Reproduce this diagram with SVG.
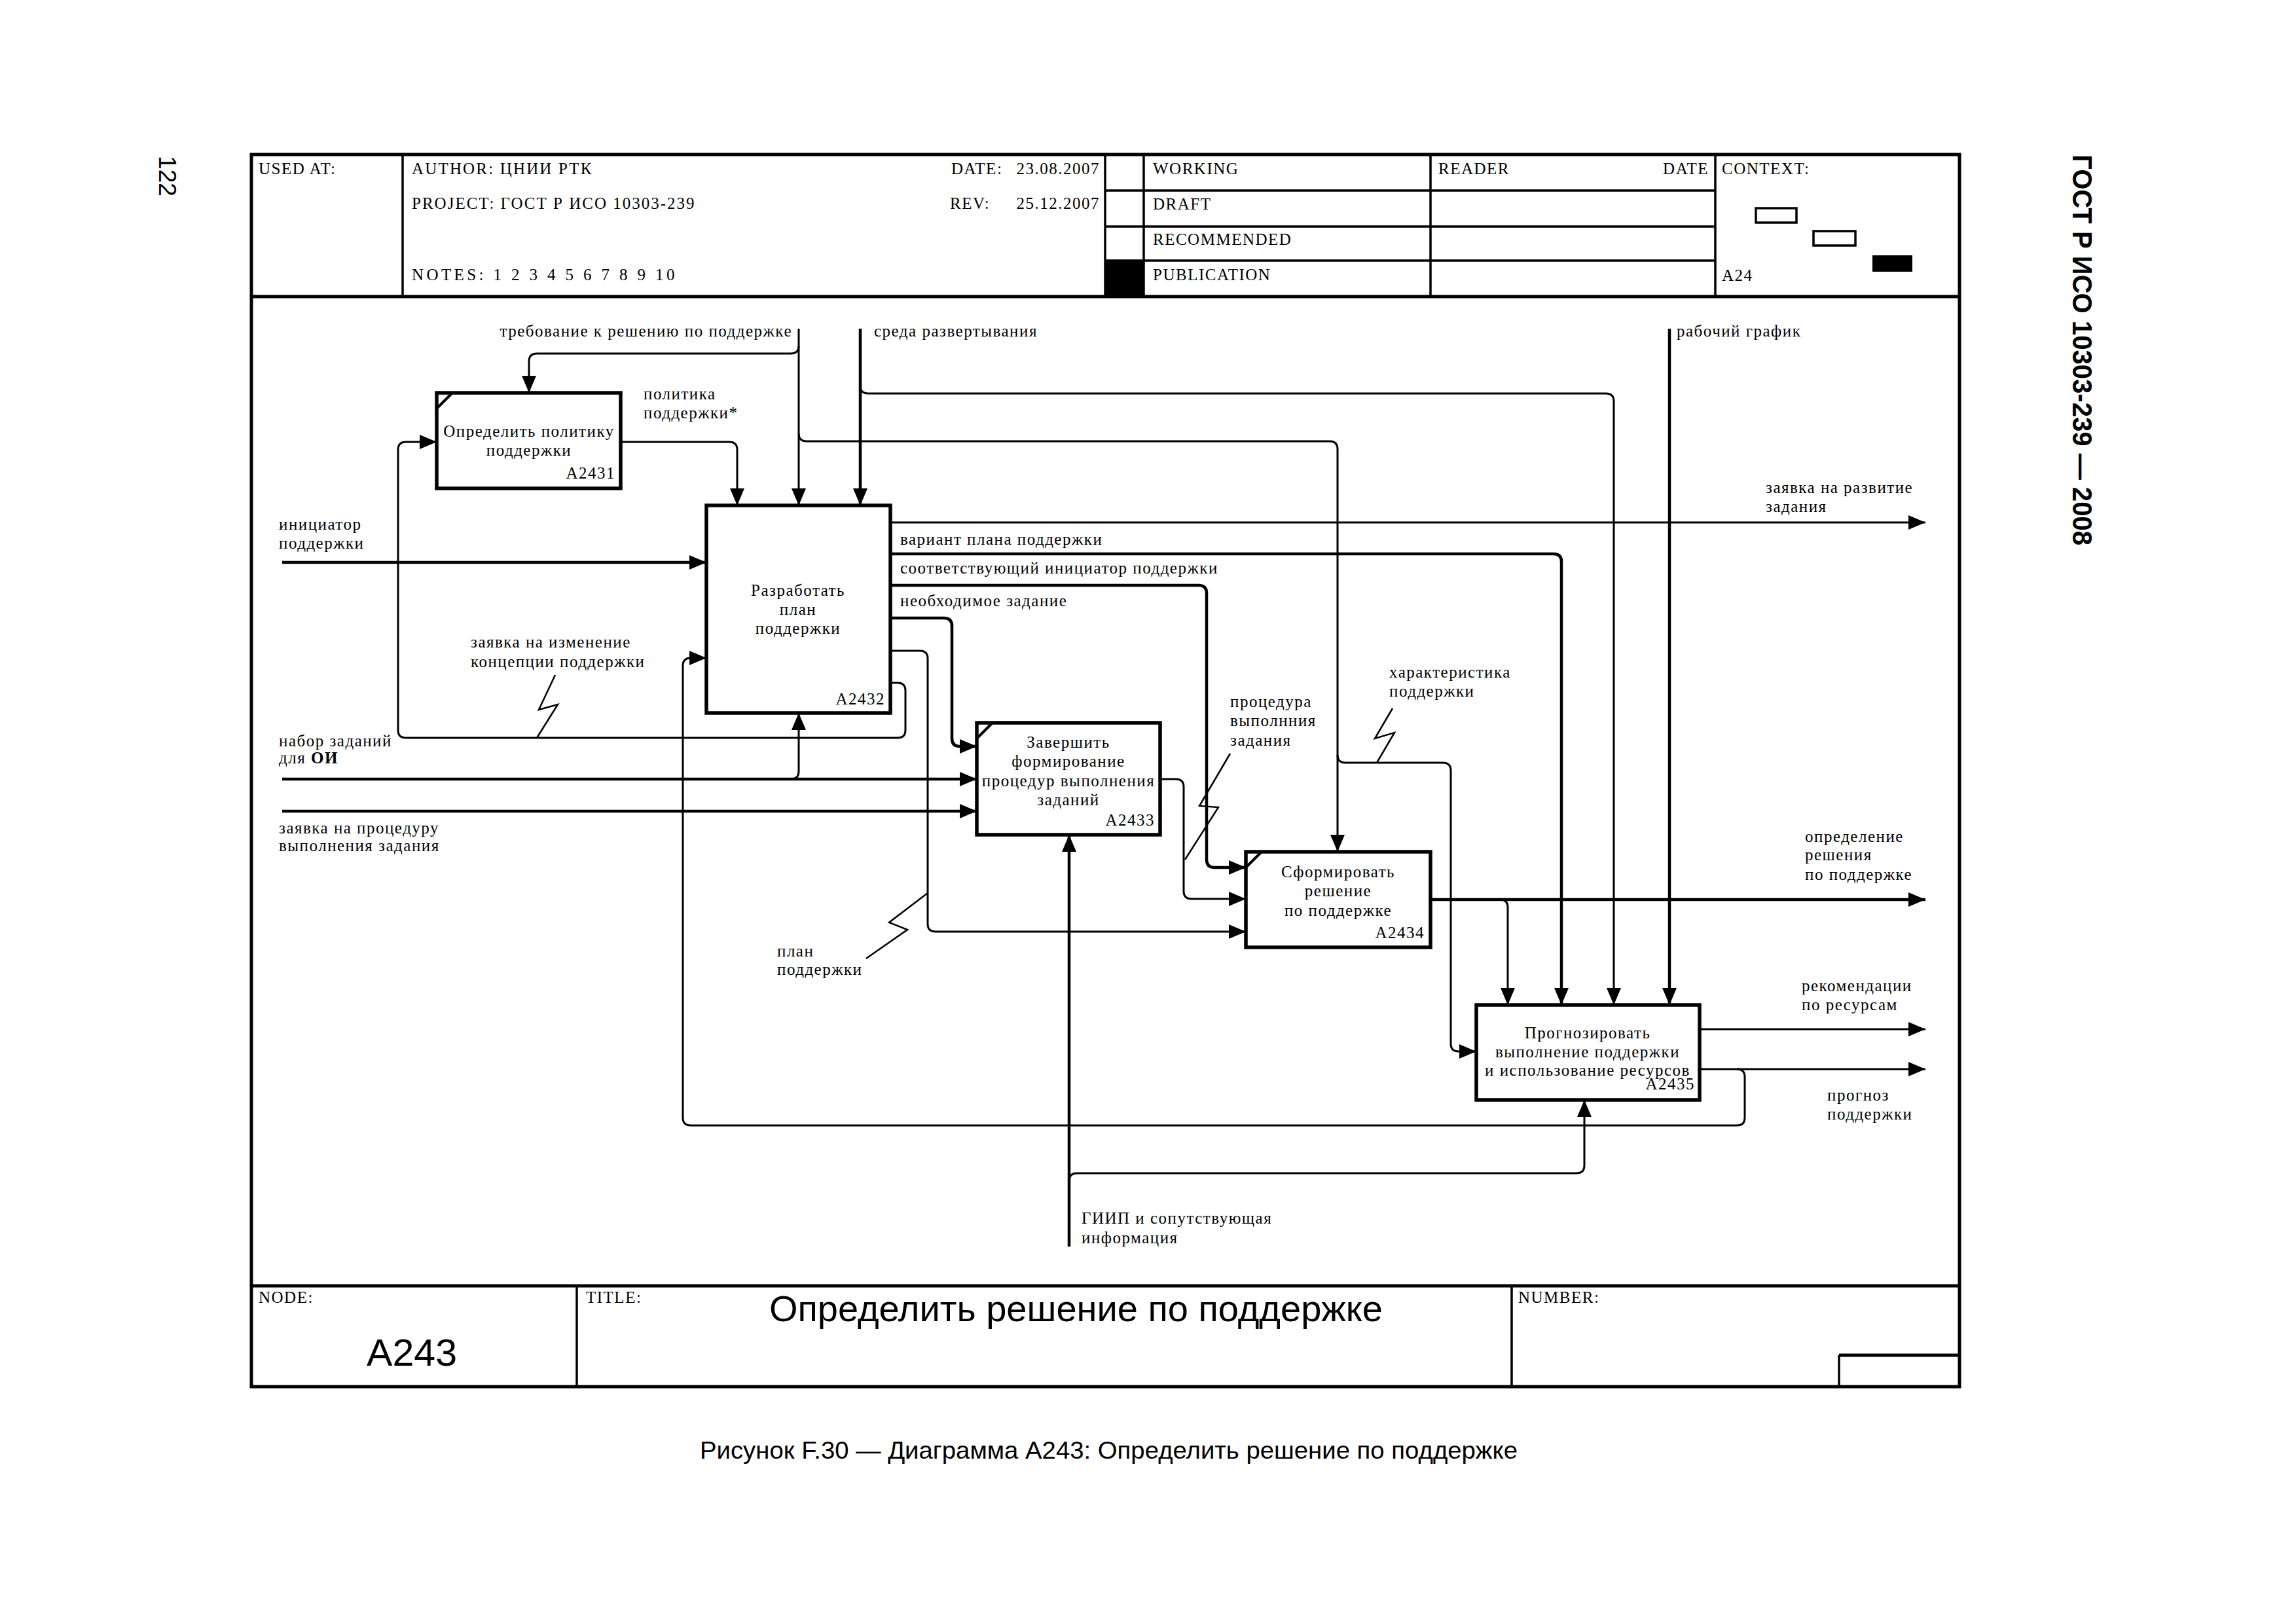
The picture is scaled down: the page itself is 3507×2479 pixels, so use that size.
<svg xmlns="http://www.w3.org/2000/svg" width="3507" height="2479" viewBox="0 0 3507 2479">
<style>
.f{fill:none;stroke:#000;stroke-width:5}
.g{fill:none;stroke:#000;stroke-width:3.5}
.t{font-family:"Liberation Serif","Times New Roman",serif;font-size:25px;letter-spacing:1.5px;fill:#000}
.l{font-family:"Liberation Serif","Times New Roman",serif;font-size:25px;letter-spacing:1.5px;fill:#000}
.box{fill:#fff;stroke:#000;stroke-width:5.5}
.d{fill:none;stroke:#000;stroke-width:4}
.c{fill:none;stroke:#000;stroke-width:3;stroke-linejoin:round}
.ct{fill:none;stroke:#000;stroke-width:4.5;stroke-linejoin:round}
.z{fill:none;stroke:#000;stroke-width:2.5;stroke-linejoin:miter}
.s{font-family:"Liberation Sans",Arial,sans-serif;fill:#000}
.m{text-anchor:middle}
.e{text-anchor:end}
</style>
<defs>
<marker id="arr" markerUnits="userSpaceOnUse" markerWidth="26" markerHeight="22" refX="26" refY="11" orient="auto">
<path d="M0,0 L26,11 L0,22 z" fill="#000"/>
</marker>
</defs>
<rect width="3507" height="2479" fill="#fff"/>

<!-- page texts -->
<text class="s" transform="translate(243,238) rotate(90)" font-size="36" textLength="62" lengthAdjust="spacingAndGlyphs">122</text>
<text class="s" transform="translate(3166,236) rotate(90)" font-size="42" font-weight="bold" textLength="597" lengthAdjust="spacingAndGlyphs">ГОСТ Р ИСО 10303-239 — 2008</text>

<!-- frame -->
<g id="frame">
<rect class="f" x="384" y="236" width="2609" height="1882"/>
<line class="f" x1="384" y1="453" x2="2993" y2="453"/>
<line class="f" x1="384" y1="1964" x2="2993" y2="1964"/>
<line class="g" x1="615" y1="236" x2="615" y2="453"/>
<line class="g" x1="1688" y1="236" x2="1688" y2="453"/>
<line class="g" x1="1747" y1="236" x2="1747" y2="453"/>
<line class="g" x1="2185" y1="236" x2="2185" y2="453"/>
<line class="g" x1="2620" y1="236" x2="2620" y2="453"/>
<line class="g" x1="1688" y1="291" x2="2620" y2="291"/>
<line class="g" x1="1688" y1="346" x2="2620" y2="346"/>
<line class="g" x1="1688" y1="398" x2="2620" y2="398"/>
<rect x="1688" y="398" width="59" height="55" fill="#000"/>
<rect x="2682" y="318" width="62" height="22" fill="#fff" stroke="#000" stroke-width="3.5"/>
<rect x="2770" y="353" width="64" height="22" fill="#fff" stroke="#000" stroke-width="3.5"/>
<rect x="2860" y="390" width="61" height="25" fill="#000"/>
<line class="g" x1="881" y1="1964" x2="881" y2="2118"/>
<line class="g" x1="2309" y1="1964" x2="2309" y2="2118"/>
<line class="f" x1="2809" y1="2070" x2="2993" y2="2070"/>
<line class="g" x1="2809" y1="2070" x2="2809" y2="2118"/>

<text class="t" x="395" y="266">USED AT:</text>
<text class="t" x="629" y="266" textLength="276" lengthAdjust="spacing">AUTHOR:  ЦНИИ РТК</text>
<text class="t" x="1453" y="266">DATE:</text>
<text class="t e" x="1680" y="266">23.08.2007</text>
<text class="t" x="629" y="319" textLength="433" lengthAdjust="spacing">PROJECT:  ГОСТ Р ИСО 10303-239</text>
<text class="t" x="1451" y="319">REV:</text>
<text class="t e" x="1680" y="319">25.12.2007</text>
<text class="t" x="629" y="428" textLength="403" lengthAdjust="spacing">NOTES:  1  2  3  4  5  6  7  8  9  10</text>
<text class="t" x="1761" y="266">WORKING</text>
<text class="t" x="1761" y="320">DRAFT</text>
<text class="t" x="1761" y="374">RECOMMENDED</text>
<text class="t" x="1761" y="428">PUBLICATION</text>
<text class="t" x="2197" y="266">READER</text>
<text class="t e" x="2610" y="266">DATE</text>
<text class="t" x="2630" y="266">CONTEXT:</text>
<text class="t" x="2630" y="429">A24</text>
<text class="t" x="395" y="1990">NODE:</text>
<text class="t" x="895" y="1990">TITLE:</text>
<text class="t" x="2319" y="1990">NUMBER:</text>
<text class="s" x="560" y="2086" font-size="58" textLength="138" lengthAdjust="spacingAndGlyphs">A243</text>
<text class="s" x="1175" y="2018" font-size="56" textLength="937" lengthAdjust="spacingAndGlyphs">Определить решение по поддержке</text>
</g>

<text class="s" x="1069" y="2228" font-size="37" textLength="1249" lengthAdjust="spacingAndGlyphs">Рисунок F.30 — Диаграмма A243: Определить решение по поддержке</text>

<!-- connectors -->
<g id="connectors">
<path class="c" d="M1220 502 V772" marker-end="url(#arr)"/>
<path class="c" d="M1220 528 Q1220 540 1208 540 H820 Q808 540 808 552 V600" marker-end="url(#arr)"/>
<path class="c" d="M1220 662 Q1220 674 1232 674 H2031 Q2043 674 2043 686 V1301" marker-end="url(#arr)"/>
<path class="c" d="M2043 1153 Q2043 1165 2055 1165 H2204 Q2216 1165 2216 1177 V1594 Q2216 1606 2228 1606 H2255" marker-end="url(#arr)"/>
<path class="ct" d="M1314 502 V772" marker-end="url(#arr)"/>
<path class="c" d="M1314 589 Q1314 601 1326 601 H2453 Q2465 601 2465 613 V1535" marker-end="url(#arr)"/>
<path class="ct" d="M2550 502 V1535" marker-end="url(#arr)"/>
<path class="c" d="M948 675 H1114 Q1126 675 1126 687 V772" marker-end="url(#arr)"/>
<path class="ct" d="M431 859 H1079" marker-end="url(#arr)"/>
<path class="c" d="M1360 798 H2941" marker-end="url(#arr)"/>
<path class="ct" d="M1360 846 H2373 Q2385 846 2385 858 V1535" marker-end="url(#arr)"/>
<path class="ct" d="M1360 894 H1831 Q1843 894 1843 906 V1313 Q1843 1325 1855 1325 H1903" marker-end="url(#arr)"/>
<path class="ct" d="M1360 944 H1442 Q1454 944 1454 956 V1128 Q1454 1140 1466 1140 H1492" marker-end="url(#arr)"/>
<path class="c" d="M1360 994 H1405 Q1417 994 1417 1006 V1411 Q1417 1423 1429 1423 H1903" marker-end="url(#arr)"/>
<path class="c" d="M1360 1043 H1371 Q1383 1043 1383 1055 V1115 Q1383 1127 1371 1127 H620 Q608 1127 608 1115 V687 Q608 675 620 675 H667" marker-end="url(#arr)"/>
<path class="ct" d="M431 1190 H1492" marker-end="url(#arr)"/>
<path class="c" d="M1208 1190 Q1220 1190 1220 1178 V1089" marker-end="url(#arr)"/>
<path class="ct" d="M431 1239 H1492" marker-end="url(#arr)"/>
<path class="c" d="M1772 1190 H1796 Q1808 1190 1808 1202 V1361 Q1808 1373 1820 1373 H1903" marker-end="url(#arr)"/>
<path class="ct" d="M2185 1374 H2941" marker-end="url(#arr)"/>
<path class="c" d="M2291 1374 Q2303 1374 2303 1386 V1535" marker-end="url(#arr)"/>
<path class="c" d="M2596 1572 H2941" marker-end="url(#arr)"/>
<path class="c" d="M2596 1633 H2941" marker-end="url(#arr)"/>
<path class="c" d="M2653 1633 Q2665 1633 2665 1645 V1707 Q2665 1719 2653 1719 H1055 Q1043 1719 1043 1707 V1017 Q1043 1005 1055 1005 H1079" marker-end="url(#arr)"/>
<path class="ct" d="M1633 1904 V1275" marker-end="url(#arr)"/>
<path class="c" d="M1633 1804 Q1633 1792 1645 1792 H2408 Q2420 1792 2420 1780 V1680" marker-end="url(#arr)"/>
<polyline class="z" points="848,1031 823,1084 852,1076 820,1127"/>
<polyline class="z" points="1323,1464 1386,1420 1358,1409 1417,1364"/>
<polyline class="z" points="1879,1151 1832,1231 1861,1233 1810,1313"/>
<polyline class="z" points="2127,1082 2100,1128 2130,1119 2103,1165"/>

<text class="l e" x="1210" y="514">требование к решению по поддержке</text>
<text class="l" x="1335" y="514">среда развертывания</text>
<text class="l" x="2561" y="514">рабочий график</text>
<text class="l" x="983" y="610">политика</text>
<text class="l" x="983" y="639">поддержки*</text>
<text class="l" x="426" y="809">инициатор</text>
<text class="l" x="426" y="838">поддержки</text>
<text class="l" x="2697" y="753">заявка на развитие</text>
<text class="l" x="2697" y="782">задания</text>
<text class="l" x="1375" y="832">вариант плана поддержки</text>
<text class="l" x="1375" y="876">соответствующий инициатор поддержки</text>
<text class="l" x="1375" y="926">необходимое задание</text>
<text class="l" x="719" y="989">заявка на изменение</text>
<text class="l" x="719" y="1019">концепции поддержки</text>
<text class="l" x="426" y="1140">набор заданий</text>
<text class="l" x="426" y="1166">для <tspan font-weight="bold">ОИ</tspan></text>
<text class="l" x="426" y="1273">заявка на процедуру</text>
<text class="l" x="426" y="1300">выполнения задания</text>
<text class="l" x="1879" y="1080">процедура</text>
<text class="l" x="1879" y="1109">выполнния</text>
<text class="l" x="1879" y="1139">задания</text>
<text class="l" x="2122" y="1035">характеристика</text>
<text class="l" x="2122" y="1064">поддержки</text>
<text class="l" x="2757" y="1286">определение</text>
<text class="l" x="2757" y="1314">решения</text>
<text class="l" x="2757" y="1344">по поддержке</text>
<text class="l" x="1187" y="1461">план</text>
<text class="l" x="1187" y="1489">поддержки</text>
<text class="l" x="2752" y="1514">рекомендации</text>
<text class="l" x="2752" y="1543">по ресурсам</text>
<text class="l" x="2791" y="1681">прогноз</text>
<text class="l" x="2791" y="1710">поддержки</text>
<text class="l" x="1652" y="1869">ГИИП и сопутствующая</text>
<text class="l" x="1652" y="1899">информация</text>
</g>

<!-- nodes -->
<g id="A2431">
<rect class="box" x="667" y="600" width="281" height="146"/>
<line class="d" x1="667" y1="624" x2="691" y2="600"/>
<text class="l m" x="808" y="667">Определить политику</text>
<text class="l m" x="808" y="696">поддержки</text>
<text class="l e" x="940" y="731">A2431</text>
</g>
<g id="A2432">
<rect class="box" x="1079" y="772" width="281" height="317" stroke-width="6"/>
<text class="l m" x="1219" y="910">Разработать</text>
<text class="l m" x="1219" y="939">план</text>
<text class="l m" x="1219" y="968">поддержки</text>
<text class="l e" x="1352" y="1076">A2432</text>
</g>
<g id="A2433">
<rect class="box" x="1492" y="1104" width="280" height="171"/>
<line class="d" x1="1492" y1="1128" x2="1516" y2="1104"/>
<text class="l m" x="1632" y="1142">Завершить</text>
<text class="l m" x="1632" y="1171">формирование</text>
<text class="l m" x="1632" y="1201">процедур выполнения</text>
<text class="l m" x="1632" y="1230">заданий</text>
<text class="l e" x="1764" y="1261">A2433</text>
</g>
<g id="A2434">
<rect class="box" x="1903" y="1301" width="282" height="146"/>
<line class="d" x1="1903" y1="1325" x2="1927" y2="1301"/>
<text class="l m" x="2044" y="1340">Сформировать</text>
<text class="l m" x="2044" y="1369">решение</text>
<text class="l m" x="2044" y="1399">по поддержке</text>
<text class="l e" x="2176" y="1433">A2434</text>
</g>
<g id="A2435">
<rect class="box" x="2255" y="1535" width="341" height="145"/>
<text class="l m" x="2425" y="1586">Прогнозировать</text>
<text class="l m" x="2425" y="1615">выполнение поддержки</text>
<text class="l m" x="2425" y="1643">и использование ресурсов</text>
<text class="l e" x="2589" y="1664">A2435</text>
</g>
</svg>
